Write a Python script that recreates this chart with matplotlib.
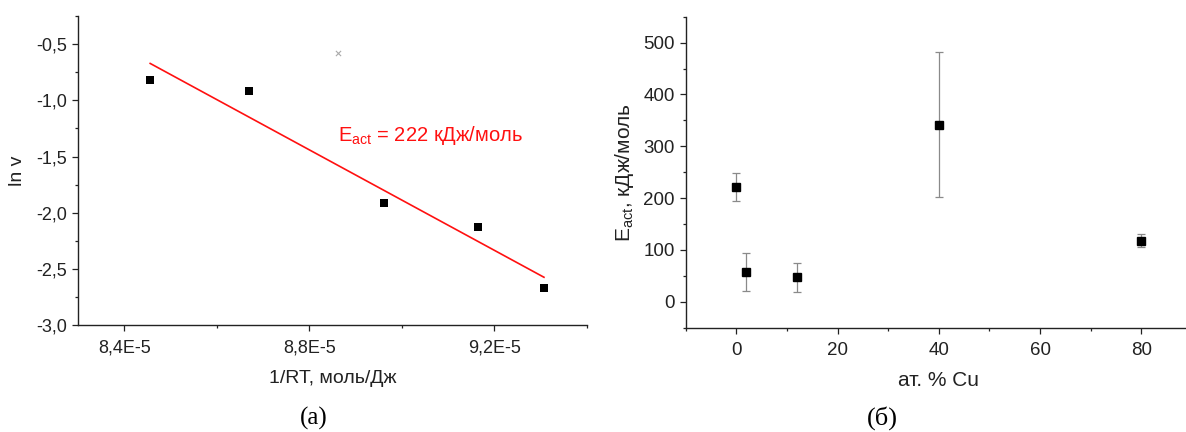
import numpy as np
import matplotlib
matplotlib.use("Agg")
import matplotlib.pyplot as plt
from matplotlib.ticker import MultipleLocator, FuncFormatter

plt.rcParams['font.family'] = ['Liberation Sans', 'DejaVu Sans']
plt.rcParams['mathtext.default'] = 'regular'

# (a) Arrhenius plot
inv_rt = [8.456e-5, 8.670e-5, 8.961e-5, 9.165e-5, 9.307e-5]
ln_v = [-0.82, -0.92, -1.91, -2.13, -2.67]
excluded_x = [8.862e-5]
excluded_y = [-0.58]
fit_label = r"E$_{act}$ = 222 кДж/моль"

# (б) activation energy vs Cu content
cu = [0, 2, 12, 40, 80]
e_act = [221, 57, 47, 342, 118]
e_err = [27.5, 37, 28, 140, 12]

W, H = 1186, 432
fig = plt.figure(figsize=(W / 100, H / 100), dpi=100)

ax1 = fig.add_axes([78 / W, (H - 325.3) / H, 509 / W, 309.3 / H])
ax2 = fig.add_axes([685.7 / W, (H - 327.7) / H, 506.3 / W, 311 / H])

axis_col = '#222222'
for ax in (ax1, ax2):
    ax.spines['top'].set_visible(False)
    ax.spines['right'].set_visible(False)
    for s in ('left', 'bottom'):
        ax.spines[s].set_linewidth(1.0)
        ax.spines[s].set_color(axis_col)
    ax.tick_params(which='major', direction='out', length=4, width=0.9, color=axis_col, pad=4)
    ax.tick_params(which='minor', direction='out', length=2.3, width=0.9, color=axis_col)

# ---- left panel
ax1.scatter(inv_rt, ln_v, marker='s', s=28, color='black', zorder=3, linewidths=0)
ax1.scatter(excluded_x, excluded_y, marker='x', s=14, color='#aaaaaa', linewidths=0.8, zorder=3)

k, b = np.polyfit(inv_rt, ln_v, 1)
xf = np.array([min(inv_rt), max(inv_rt)])
ax1.plot(xf, k * xf + b, color='#ff1010', lw=1.2, zorder=2)
ax1.text(8.862e-5, -1.31, fit_label, color='#ff1010', fontsize=14.5, va='center', ha='left')

ax1.set_xlim(8.3e-5, 9.4e-5)
ax1.set_ylim(-3.0, -0.25)
ax1.xaxis.set_major_locator(MultipleLocator(0.4e-5))
ax1.xaxis.set_minor_locator(MultipleLocator(0.2e-5))
ax1.yaxis.set_major_locator(MultipleLocator(0.5))
ax1.yaxis.set_minor_locator(MultipleLocator(0.25))
ax1.xaxis.set_major_formatter(FuncFormatter(lambda v, p: f"{v * 1e5:.1f}".replace('.', ',') + "E-5"))
ax1.yaxis.set_major_formatter(FuncFormatter(lambda v, p: f"{v:.1f}".replace('.', ',')))
ax1.tick_params(axis='both', labelsize=13, labelcolor='#222222')
ax1.tick_params(axis='x', pad=6)

ax1.set_xlabel("1/RT, моль/Дж", fontsize=14, color='#222222')
ax1.xaxis.set_label_coords(0.5, (325.3 - 378.5) / 309.3)
ax1.xaxis.label.set_va('center')
ax1.set_ylabel("ln v", fontsize=14, color='#222222')
ax1.yaxis.set_label_coords((17 - 78) / 509, 0.5)
ax1.yaxis.label.set_va('center')

# ---- right panel
ax2.errorbar(cu, e_act, yerr=e_err, fmt='s', color='black', markersize=5.2,
             ecolor='#8a8a8a', elinewidth=0.9, capsize=2.8, capthick=0.9, zorder=3)

ax2.set_xlim(-10, 90)
ax2.set_ylim(-50, 550)
ax2.xaxis.set_major_locator(MultipleLocator(20))
ax2.xaxis.set_minor_locator(MultipleLocator(10))
ax2.yaxis.set_major_locator(MultipleLocator(100))
ax2.yaxis.set_minor_locator(MultipleLocator(50))
ax2.tick_params(axis='both', labelsize=13.5, labelcolor='#222222')
ax2.tick_params(axis='x', pad=6)

ax2.set_xlabel("ат. % Cu", fontsize=15, color='#222222')
ax2.xaxis.set_label_coords(0.5, (327.7 - 381) / 311)
ax2.xaxis.label.set_va('center')
ax2.set_ylabel(r"E$_{act}$, кДж/моль", fontsize=15, color='#222222')
ax2.yaxis.set_label_coords((625 - 685.7) / 506.3, 0.5)
ax2.yaxis.label.set_va('center')

# captions
fig.text(314 / W, (H - 418) / H, "(a)", family='Liberation Serif', fontsize=18, ha='center', va='center')
fig.text(882 / W, (H - 418) / H, "(б)", family='Liberation Serif', fontsize=19, ha='center', va='center')

fig.savefig("out.png", dpi=100)
